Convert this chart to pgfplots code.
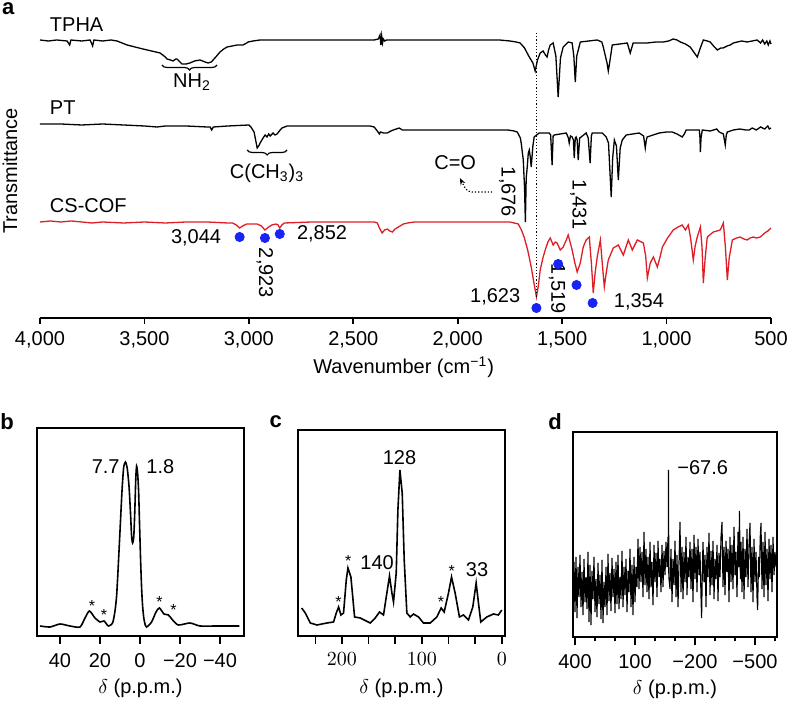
\documentclass[border=0pt]{standalone}
\usepackage{fontspec}
\setmainfont{Liberation Sans}
\usepackage{pgfplots}
\pgfplotsset{compat=1.18}
\usetikzlibrary{decorations.pathreplacing,arrows.meta}
\definecolor{cofred}{RGB}{221,30,38}
\definecolor{dotblue}{RGB}{25,35,245}

\pgfplotsset{
  nmr/.style={
    scale only axis, anchor=south west, x dir=reverse,
    axis line style={line width=0.8pt}, ytick=\empty,
    xtick pos=bottom, tick align=outside, major tick length=4pt, minor tick length=4pt,
    tick style={line width=0.8pt, black},
    xticklabel style={yshift=-1pt},
    clip=false,
  },
}

\begin{document}
\begin{tikzpicture}[font=\fontsize{10}{12}\selectfont]
\path[use as bounding box] (0,0) rectangle (394pt,350.5pt);

% ---- a: FTIR
\begin{axis}[
  at={(20pt,191.5pt)}, anchor=south west, scale only axis,
  width=365.5pt, height=150pt,
  xmin=500, xmax=4000, x dir=reverse, ymin=0, ymax=300,
  axis x line*=bottom, axis y line=none,
  x axis line style={-, line width=0.9pt},
  xtick={500,1000,...,4000},
  xticklabels={500,{1,000},{1,500},{2,000},{2,500},{3,000},{3,500},{4,000}},
  tick align=outside, major tick length=3pt, tick style={line width=0.9pt, black},
  clip=false,
]
% TPHA
\addplot[black, line width=0.65pt] table[row sep=\\] {
w y \\
4000 278 \\ 3960 277 \\ 3920 278 \\ 3870 277 \\ 3858 273 \\ 3852 278 \\ 3800 277 \\
3760 278 \\ 3748 272 \\ 3742 278 \\ 3700 277 \\ 3660 278 \\ 3631 277 \\ 3583 273 \\
3507 269 \\ 3425 265 \\ 3400 261 \\ 3392 259 \\ 3375 258 \\ 3363 257 \\ 3350 259 \\
3344 259 \\ 3320 254 \\ 3300 254 \\ 3282 255 \\ 3260 257 \\ 3234 258 \\ 3210 256 \\
3195 255 \\ 3180 256 \\ 3171 258 \\ 3150 263 \\ 3138 266 \\ 3120 269 \\ 3104 271 \\
3056 273 \\ 3040 273 \\ 3028 273 \\ 3010 275 \\ 3004 276 \\ 2980 277 \\ 2946 278 \\
2800 278 \\ 2600 278 \\ 2400 278 \\ 2380 279 \\ 2372 283 \\ 2368 273 \\ 2364 282 \\
2360 275 \\ 2356 279 \\ 2350 277 \\ 2340 278 \\ 2000 278 \\ 1800 278 \\ 1750 277 \\
1720 276 \\ 1701 275 \\ 1680 270 \\ 1660 262 \\ 1640 255 \\ 1629 247 \\ 1618 258 \\
1605 265 \\ 1591 267 \\ 1580 263 \\ 1572 261 \\ 1565 268 \\ 1557 273 \\ 1543 275 \\
1530 262 \\ 1519 221 \\ 1508 260 \\ 1495 271 \\ 1471 276 \\ 1452 275 \\ 1444 262 \\
1437 236 \\ 1430 262 \\ 1413 276 \\ 1332 278 \\ 1310 276 \\ 1303 271 \\ 1285 255 \\
1279 247 \\ 1272 256 \\ 1260 273 \\ 1188 275 \\ 1174 265 \\ 1160 275 \\ 1093 275 \\
1050 276 \\ 1016 276 \\ 990 277 \\ 968 279 \\ 950 278 \\ 934 276 \\ 910 274 \\
887 271 \\ 870 266 \\ 853 261 \\ 840 269 \\ 824 278 \\ 805 277 \\ 791 276 \\
775 272 \\ 757 268 \\ 740 270 \\ 729 270 \\ 710 272 \\ 695 273 \\ 680 275 \\
661 276 \\ 640 277 \\ 614 276 \\ 590 277 \\ 566 278 \\ 550 275 \\ 540 278 \\
530 274 \\ 520 277 \\ 513 273 \\ 505 277 \\ 500 274 \\
};
% PT
\addplot[black, line width=0.65pt] table[row sep=\\] {
w y \\
4000 194 \\ 3900 194 \\ 3800 193 \\ 3700 194 \\ 3600 193 \\ 3500 192 \\ 3440 191 \\
3400 192 \\ 3300 192 \\ 3200 191 \\ 3185 191 \\ 3178 188 \\ 3170 191 \\ 3100 192 \\
3000 193 \\ 2990 191 \\ 2975 186 \\ 2960 170 \\ 2950 173 \\ 2946 175 \\ 2932 180 \\
2922 183 \\ 2913 181 \\ 2905 184 \\ 2898 182 \\ 2884 185 \\ 2875 183 \\ 2865 184 \\
2850 188 \\ 2841 190 \\ 2817 192 \\ 2600 192 \\ 2420 192 \\ 2400 191 \\ 2385 187 \\
2375 184 \\ 2370 186 \\ 2355 185 \\ 2337 185 \\ 2320 187 \\ 2308 188 \\ 2280 190 \\
2265 188 \\ 2250 188 \\ 2000 188 \\ 1800 188 \\ 1760 188 \\ 1730 187 \\ 1715 186 \\
1700 180 \\ 1696 175 \\ 1686 158 \\ 1680 130 \\ 1676 96 \\ 1672 140 \\ 1667 151 \\
1662 165 \\ 1657 168 \\ 1652 160 \\ 1648 151 \\ 1640 172 \\ 1634 181 \\ 1610 185 \\
1562 185 \\ 1555 183 \\ 1548 153 \\ 1543 182 \\ 1538 183 \\ 1480 185 \\ 1470 180 \\
1466 175 \\ 1460 182 \\ 1452 181 \\ 1446 178 \\ 1442 160 \\ 1437 180 \\ 1433 181 \\
1428 178 \\ 1423 158 \\ 1416 180 \\ 1409 181 \\ 1385 185 \\ 1375 180 \\ 1366 155 \\
1360 182 \\ 1356 185 \\ 1308 185 \\ 1289 181 \\ 1278 175 \\ 1265 121 \\ 1258 160 \\
1250 178 \\ 1240 172 \\ 1231 138 \\ 1222 170 \\ 1212 178 \\ 1193 183 \\ 1131 185 \\
1110 182 \\ 1102 170 \\ 1097 178 \\ 1093 181 \\ 1035 185 \\ 1000 186 \\ 973 186 \\
950 184 \\ 925 181 \\ 915 184 \\ 906 188 \\ 843 188 \\ 840 180 \\ 838 166 \\
835 180 \\ 829 188 \\ 790 187 \\ 760 189 \\ 748 186 \\ 728 184 \\ 719 173 \\
714 183 \\ 709 186 \\ 680 188 \\ 650 189 \\ 620 188 \\ 604 188 \\ 590 190 \\
570 188 \\ 550 191 \\ 530 189 \\ 515 192 \\ 508 189 \\ 500 190 \\
};
% CS-COF
\addplot[cofred, line width=0.65pt] table[row sep=\\] {
w y \\
4000 96 \\ 3950 97 \\ 3900 96 \\ 3850 97 \\ 3800 96 \\ 3750 95 \\ 3700 96 \\
3600 95 \\ 3500 96 \\ 3400 95 \\ 3300 96 \\ 3200 96 \\ 3100 95 \\ 3078 95 \\
3060 93 \\ 3044 90 \\ 3030 92 \\ 3010 94 \\ 2980 94 \\ 2960 94 \\ 2940 92 \\
2923 88 \\ 2905 91 \\ 2890 93 \\ 2870 94 \\ 2860 93 \\ 2852 90 \\ 2842 93 \\
2830 95 \\ 2700 96 \\ 2500 96 \\ 2400 96 \\ 2385 95 \\ 2375 90 \\ 2362 85 \\
2350 88 \\ 2337 89 \\ 2325 87 \\ 2313 86 \\ 2300 89 \\ 2284 91 \\ 2260 94 \\
2240 95 \\ 2207 96 \\ 2000 96 \\ 1885 96 \\ 1750 96 \\ 1710 94 \\ 1695 88 \\
1682 81 \\ 1665 68 \\ 1648 51 \\ 1635 35 \\ 1623 21 \\ 1614 32 \\ 1605 48 \\
1592 60 \\ 1581 68 \\ 1568 76 \\ 1557 80 \\ 1543 73 \\ 1533 76 \\ 1524 75 \\
1509 68 \\ 1495 71 \\ 1480 78 \\ 1471 83 \\ 1462 76 \\ 1452 68 \\ 1440 56 \\
1428 46 \\ 1413 55 \\ 1399 71 \\ 1385 78 \\ 1370 81 \\ 1360 55 \\ 1351 25 \\
1342 45 \\ 1332 61 \\ 1317 78 \\ 1308 55 \\ 1298 31 \\ 1289 45 \\ 1279 58 \\
1255 70 \\ 1231 73 \\ 1207 63 \\ 1183 78 \\ 1164 68 \\ 1140 78 \\ 1111 75 \\
1100 62 \\ 1092 40 \\ 1078 55 \\ 1063 61 \\ 1044 51 \\ 1030 62 \\ 1020 71 \\
995 80 \\ 968 88 \\ 945 91 \\ 925 93 \\ 910 88 \\ 896 93 \\ 885 80 \\
872 58 \\ 863 72 \\ 853 81 \\ 838 91 \\ 830 70 \\ 824 35 \\ 815 60 \\
805 81 \\ 776 86 \\ 743 88 \\ 728 95 \\ 718 70 \\ 709 38 \\ 700 60 \\
685 78 \\ 665 80 \\ 647 81 \\ 630 79 \\ 614 78 \\ 600 80 \\ 585 81 \\
570 80 \\ 551 81 \\ 530 85 \\ 515 87 \\ 500 90 \\
};
% marked bands
\addplot[only marks, mark=*, mark size=2.3pt, dotblue] table[row sep=\\] {
w y \\
3044 81 \\ 2923 80 \\ 2852 84 \\ 1623 10 \\ 1519 54 \\ 1431 33 \\ 1354 15 \\
};
\draw[densely dotted, line width=0.6pt] (axis cs:1623,285) -- (axis cs:1623,20);
\draw[decorate, decoration={brace, mirror, amplitude=2.5pt}, line width=0.6pt]
  (axis cs:3416,253) -- (axis cs:3152,253);
\draw[decorate, decoration={brace, mirror, amplitude=2.5pt}, line width=0.6pt]
  (axis cs:3008,168) -- (axis cs:2817,168);
\draw[densely dotted, line width=0.6pt, -{Stealth[length=3.5pt]}]
  (axis cs:1835,126) -- (axis cs:1915,126) .. controls (axis cs:1955,126) .. (axis cs:1990,140);
\node[font=\fontsize{11}{13}\selectfont\bfseries, anchor=west, inner sep=0.5pt] at (axis cs:4188,309) {a};
\node[anchor=west] at (axis cs:3986,293) {TPHA};
\node[anchor=west] at (axis cs:3986,210) {PT};
\node[anchor=west] at (axis cs:3986,112) {CS-COF};
\node at (axis cs:3272,236) {NH\textsubscript{2}};
\node at (axis cs:2913,145) {C(CH\textsubscript{3})\textsubscript{3}};
\node at (axis cs:2012,155) {C=O};
\node[rotate=90] at (axis cs:4144,147) {Transmittance};
\node[anchor=east] at (axis cs:3099,80) {3,044};
\node[rotate=-90] at (axis cs:2923,45) {2,923};
\node[anchor=west] at (axis cs:2803,84) {2,852};
\node[rotate=-90] at (axis cs:1763,126) {1,676};
\node[rotate=-90] at (axis cs:1423,113) {1,431};
\node[anchor=east] at (axis cs:1667,21) {1,623};
\node[rotate=-90] at (axis cs:1524,29) {1,519};
\node[anchor=west] at (axis cs:1286,16) {1,354};
\node at (axis cs:2259,-49) {Wavenumber (cm\textsuperscript{−1})};
\end{axis}

% ---- b
\begin{axis}[nmr,
  at={(18.5pt,32.5pt)}, width=103.5pt, height=104pt,
  xmin=-52, xmax=51.5, ymin=0, ymax=208,
  xtick={-40,-20,0,20,40}, xticklabels={−40,−20,0,20,40},
]
\addplot[black, line width=0.8pt, smooth, tension=0.4] table[row sep=\\] {
d y \\
50 10 \\ 45 9 \\ 40 12 \\ 35 10 \\ 30 9 \\ 27.5 18 \\ 25.3 25 \\ 22.5 18 \\ 20 14 \\
18 15 \\ 15.8 10 \\ 13.7 13 \\ 12.5 25 \\ 11.7 40 \\ 11 65 \\ 10 105 \\ 9 145 \\
8.2 168 \\ 7.3 174 \\ 6.4 168 \\ 5.5 150 \\ 4.8 125 \\ 4.2 100 \\ 3.7 93 \\ 3.1 100 \\
2.6 125 \\ 2.1 158 \\ 1.7 170 \\ 1.2 163 \\ 0.7 145 \\ 0.2 110 \\ -0.3 76 \\ -0.8 48 \\
-1.3 30 \\ -1.9 18 \\ -2.5 12 \\ -3.3 9 \\ -5.8 14 \\ -8 24 \\ -9.7 28 \\ -12 22 \\
-14.2 21 \\ -16.3 16 \\ -19.2 11 \\ -25 13 \\ -30 10 \\ -38.3 10 \\ -49.7 10 \\
};
\node[font=\fontsize{11}{13}\selectfont\bfseries] at (axis cs:66.5,214) {b};
\node[anchor=east, inner sep=1pt] at (axis cs:9,169) {7.7};
\node[anchor=west, inner sep=1pt] at (axis cs:-2,169) {1.8};
\node[font=\fontsize{8}{9}\selectfont] at (axis cs:24,30) {*};
\node[font=\fontsize{8}{9}\selectfont] at (axis cs:18,21) {*};
\node[font=\fontsize{8}{9}\selectfont] at (axis cs:-9.7,34) {*};
\node[font=\fontsize{8}{9}\selectfont] at (axis cs:-16.7,26) {*};
\node at (rel axis cs:0.5,0) [yshift=-26pt] {$\delta$ (p.p.m.)};
\end{axis}

% ---- c
\begin{axis}[nmr,
  at={(149pt,32.5pt)}, width=103.5pt, height=103pt,
  xmin=-4, xmax=255, ymin=0, ymax=206,
  xtick={0,100,200}, minor xtick={33.33,66.67,133.33,166.67,233.33},
]
\addplot[black, line width=0.8pt] table[row sep=\\] {
d y \\
250.4 28 \\ 245.9 23 \\ 239.6 13 \\ 231.3 11 \\ 218.8 13 \\ 210.5 14 \\ 207.1 23 \\
204.2 29 \\ 201.3 21 \\ 198 23 \\ 194.6 56 \\ 192.5 68 \\ 188.8 59 \\ 184.2 19 \\
177.1 18 \\ 164.6 13 \\ 158.4 18 \\ 153 24 \\ 148 21 \\ 143.8 43 \\ 140.5 60 \\
137.5 43 \\ 135.5 34 \\ 132.1 63 \\ 130 126 \\ 127.5 166 \\ 124.6 143 \\ 122.1 76 \\
118.8 23 \\ 114.6 19 \\ 110.5 22 \\ 104.2 19 \\ 98 13 \\ 89.6 13 \\ 81.3 19 \\
75.9 28 \\ 72.1 24 \\ 66.7 43 \\ 62.9 59 \\ 58.4 43 \\ 53 19 \\ 48 21 \\
41.7 16 \\ 36.3 29 \\ 32.1 53 \\ 29.2 33 \\ 26.3 14 \\ 18.8 19 \\ 10.5 22 \\
4.3 21 \\ 0 26 \\
};
\node[font=\fontsize{11}{13}\selectfont\bfseries] at (axis cs:283,214) {c};
\node at (axis cs:156,73) {140};
\node at (axis cs:128,178) {128};
\node at (axis cs:31,66) {33};
\node[font=\fontsize{8}{9}\selectfont] at (axis cs:204.2,34) {*};
\node[font=\fontsize{8}{9}\selectfont] at (axis cs:192,75) {*};
\node[font=\fontsize{8}{9}\selectfont] at (axis cs:76,34) {*};
\node[font=\fontsize{8}{9}\selectfont] at (axis cs:62.5,65) {*};
\node at (rel axis cs:0.5,0) [yshift=-26pt] {$\delta$ (p.p.m.)};
\end{axis}

% ---- d
\begin{axis}[nmr,
  at={(286.5pt,32pt)}, width=102pt, height=102.5pt,
  xmin=-610, xmax=410, ymin=0, ymax=205,
  xtick={-500,-200,100,400}, xticklabels={−500,−200,100,400},
  minor xtick={-600,-400,-300,-100,0,200,300}, minor tick length=2pt,
]
\addplot[black, line width=0.55pt] table[row sep=\\] {
d y \\
410 50 \\ 405 75 \\ 400 25 \\ 395 80 \\ 390 19 \\ 385 70 \\ 380 40 \\ 375 82 \\
370 30 \\ 365 65 \\ 360 22 \\ 355 78 \\ 350 35 \\ 345 60 \\ 340 28 \\ 335 85 \\
330 15 \\ 325 72 \\ 320 12 \\ 315 66 \\ 310 38 \\ 305 80 \\ 300 25 \\ 295 58 \\
290 20 \\ 285 74 \\ 280 33 \\ 275 62 \\ 270 18 \\ 265 77 \\ 260 14 \\ 255 55 \\
250 30 \\ 245 70 \\ 240 22 \\ 235 83 \\ 230 36 \\ 225 64 \\ 220 26 \\ 215 79 \\
210 40 \\ 205 68 \\ 200 24 \\ 195 75 \\ 190 33 \\ 185 82 \\ 180 28 \\ 175 60 \\
170 38 \\ 165 86 \\ 160 30 \\ 155 70 \\ 150 42 \\ 145 78 \\ 140 25 \\ 135 66 \\
130 45 \\ 125 88 \\ 120 30 \\ 115 72 \\ 110 22 \\ 105 80 \\ 100 35 \\ 95 70 \\
90 50 \\ 85 98 \\ 80 48 \\ 75 90 \\ 70 55 \\ 65 85 \\ 60 40 \\ 55 105 \\
50 52 \\ 45 88 \\ 40 45 \\ 35 80 \\ 30 38 \\ 25 95 \\ 20 50 \\ 15 75 \\
10 32 \\ 5 92 \\ 0 55 \\ -5 84 \\ -10 40 \\ -15 96 \\ -20 60 \\ -25 78 \\
-30 45 \\ -35 92 \\ -40 50 \\ -45 86 \\ -50 62 \\ -55 95 \\ -60 70 \\ -65 100 \\
-66 70 \\ -67.6 167 \\ -69 60 \\ -75 48 \\ -80 88 \\ -85 35 \\ -90 78 \\ -95 52 \\
-100 96 \\ -105 40 \\ -110 82 \\ -115 30 \\ -120 75 \\ -125 115 \\ -130 45 \\ -135 90 \\
-140 38 \\ -145 85 \\ -150 55 \\ -155 100 \\ -160 42 \\ -165 80 \\ -170 60 \\ -175 95 \\
-180 48 \\ -185 88 \\ -190 35 \\ -195 102 \\ -200 58 \\ -205 90 \\ -210 45 \\ -215 98 \\
-220 62 \\ -225 85 \\ -230 40 \\ -233 19 \\ -237 70 \\ -240 95 \\ -245 55 \\ -250 82 \\
-255 30 \\ -260 90 \\ -265 60 \\ -270 104 \\ -275 42 \\ -280 86 \\ -285 52 \\ -290 96 \\
-295 38 \\ -300 78 \\ -305 58 \\ -310 92 \\ -315 36 \\ -320 84 \\ -325 60 \\ -330 100 \\
-335 115 \\ -340 50 \\ -345 90 \\ -350 42 \\ -355 96 \\ -360 65 \\ -365 88 \\ -370 35 \\
-375 100 \\ -380 55 \\ -385 92 \\ -390 48 \\ -395 110 \\ -400 62 \\ -405 85 \\ -410 40 \\
-415 105 \\ -420 70 \\ -422 126 \\ -427 58 \\ -430 95 \\ -435 45 \\ -440 100 \\ -445 38 \\
-450 88 \\ -455 60 \\ -460 108 \\ -465 50 \\ -470 92 \\ -475 114 \\ -480 45 \\ -485 90 \\
-490 35 \\ -495 98 \\ -500 55 \\ -505 85 \\ -510 40 \\ -513 27 \\ -518 80 \\ -522 60 \\
-526 100 \\ -530 114 \\ -535 48 \\ -540 95 \\ -545 40 \\ -550 105 \\ -555 52 \\ -560 88 \\
-565 36 \\ -570 98 \\ -575 58 \\ -580 92 \\ -585 45 \\ -590 100 \\ -595 62 \\ -600 85 \\
-605 70 \\ -610 90 \\
};
\node[font=\fontsize{11}{13}\selectfont\bfseries] at (axis cs:500,215) {d};
\node[anchor=west, inner sep=1pt] at (axis cs:-100,169) {−67.6};
\node at (rel axis cs:0.5,0) [yshift=-26pt] {$\delta$ (p.p.m.)};
\end{axis}
\end{tikzpicture}
\end{document}
